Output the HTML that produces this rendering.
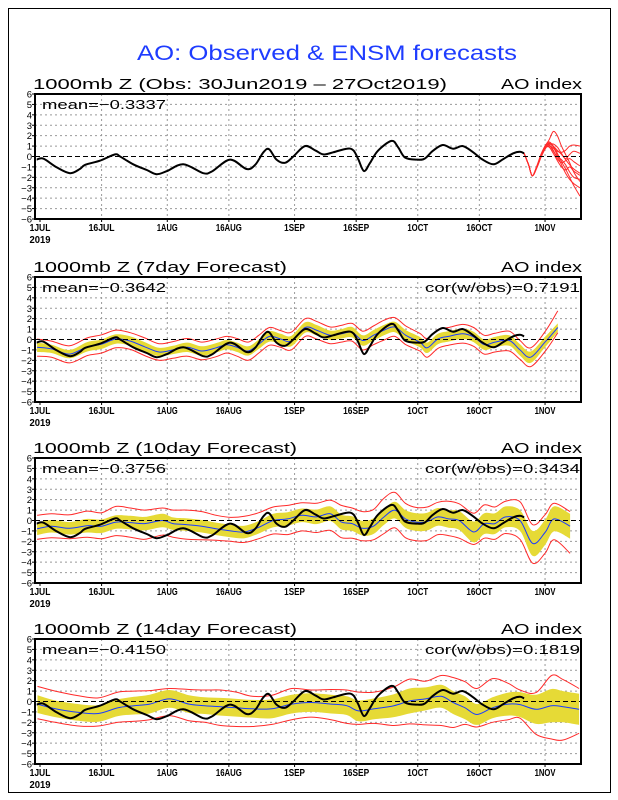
<!DOCTYPE html>
<html><head><meta charset="utf-8"><style>
html,body{margin:0;padding:0;background:#fff;}
svg{display:block;}
text{font-family:"Liberation Sans",sans-serif;}
</style></head><body>
<svg id="chart" width="618" height="800" viewBox="0 0 618 800" xmlns="http://www.w3.org/2000/svg">
<rect x="8.5" y="8.5" width="602" height="784" fill="none" stroke="#000" stroke-width="1"/>
<text x="137" y="60" font-size="21" fill="#1e3cff" textLength="380" lengthAdjust="spacingAndGlyphs">AO: Observed &amp; ENSM forecasts</text>
</svg>
<script>
// ---- data ----
const tickDays = [0,15,31,46,62,77,92,107,123];
const tickLabels = ["1JUL","16JUL","1AUG","16AUG","1SEP","16SEP","1OCT","16OCT","1NOV"];
const yTicks = [6,5,4,3,2,1,0,-1,-2,-3,-4,-5,-6];

const obsDays = [-0.8,0.8,4.1,7.3,9.7,11,14.6,18.3,19.5,22.7,26,28.4,30.9,34.9,39.8,42,46.3,50.3,52.4,54.4,55.8,57.6,59.7,61.7,64.5,67,69,71.4,74.7,76.3,77.5,78.9,80.4,82.3,85.6,87.2,88.9,91.8,93.7,95.7,98.1,100.6,103,105.5,107.6,110.4,112.8,115.2,116.9,117.9];
const obsVals = [-0.3,-0.2,-1.05,-1.6,-1.2,-0.8,-0.4,0.2,0.0,-0.75,-1.3,-1.7,-1.4,-0.75,-1.6,-1.4,-0.3,-1.2,-0.8,0.4,0.7,-0.3,-0.6,0.0,1.0,0.6,0.2,0.4,0.75,0.6,-0.25,-1.4,-0.6,0.55,1.5,0.9,-0.1,-0.3,-0.2,0.55,1.1,0.75,1.0,0.4,-0.25,-0.75,-0.25,0.3,0.45,0.3];

// panel 1 spaghetti members
const memDays = [117.9,119,119.9,121,122,123,124,125,126,127,128,129,130,131.5];
const members = [
 [0.3,-0.8,-1.85,-1.0,0.0,0.9,1.2,1.0,0.6,0.2,-0.3,-0.8,-1.2,-1.6],
 [0.3,-0.8,-1.85,-1.0,0.1,1.0,1.6,2.4,2.0,1.0,0.2,-0.6,-1.5,-2.4],
 [0.3,-0.8,-1.85,-0.9,0.2,1.0,1.4,1.0,0.3,-0.5,-1.2,-2.0,-2.8,-3.8],
 [0.3,-0.8,-1.85,-1.0,0.0,0.8,1.0,0.8,0.5,0.4,0.6,1.0,1.1,1.0],
 [0.3,-0.8,-1.85,-1.1,-0.1,0.7,1.1,0.6,-0.2,-0.6,-0.4,-0.2,-0.5,-0.9],
 [0.3,-0.8,-1.85,-1.0,0.1,0.9,1.3,0.9,0.1,-0.8,-1.6,-2.2,-2.6,-3.0],
 [0.3,-0.8,-1.85,-1.0,0.0,0.9,1.1,0.5,0.0,-0.3,-0.8,-1.5,-2.0,-2.2],
 [0.3,-0.8,-1.85,-1.0,0.0,1.0,1.2,1.2,0.9,0.3,-0.2,0.2,0.5,0.3],
 [0.3,-0.8,-1.85,-1.0,0.0,0.8,0.9,0.3,-0.4,-1.0,-1.3,-1.0,-1.4,-1.8]
];

const p2Days = [-0.7,2.8,7.2,11.5,15,18.5,22,25.5,29,32.4,35.9,39.4,42.9,45.5,48,50.7,53.3,55.9,58.6,61.2,64.6,67.3,70.7,73.4,76,78.6,81.2,83.8,86.4,89.1,92.5,94.3,96.9,99.5,103,105.6,108.2,110.8,114.3,116.9,119.5,123,126.1];
const p2Mean = [-0.75,-0.9,-1.4,-0.7,-0.45,0.05,-0.15,-0.7,-1.2,-1.0,-0.75,-1.1,-0.8,-0.5,-0.75,-1.1,-0.45,0.3,0.05,-0.15,1.15,0.9,0.4,0.55,0.7,-0.1,0.4,0.9,1.2,0.4,-0.25,-0.8,0.05,0.3,0.55,0.25,-0.5,-0.25,-0.1,-1.0,-1.7,-0.25,1.15];
const p2Band = [0.45,0.4,0.4,0.45,0.45,0.45,0.45,0.45,0.4,0.4,0.45,0.45,0.45,0.45,0.45,0.45,0.45,0.5,0.5,0.5,0.5,0.5,0.45,0.45,0.5,0.5,0.5,0.5,0.5,0.5,0.5,0.5,0.5,0.5,0.5,0.5,0.5,0.5,0.5,0.55,0.55,0.5,0.4];
const p2RedUp = [0.8,0.75,0.8,0.85,0.9,0.85,0.8,0.85,0.8,0.8,0.85,0.85,0.85,0.8,0.85,0.85,0.85,0.85,0.8,0.85,0.85,0.85,0.8,0.8,0.85,0.9,0.9,0.95,0.9,0.9,0.85,0.9,0.9,0.85,0.9,0.9,0.9,0.85,0.9,0.9,0.9,1.0,1.6];
const p2RedDn = [0.85,0.8,0.85,0.85,0.85,0.85,0.8,0.85,0.8,0.8,0.85,0.85,0.85,0.8,0.85,0.9,0.85,0.85,0.8,0.85,0.85,0.85,0.8,0.8,0.85,0.9,0.9,0.95,0.9,0.9,0.85,0.9,0.9,0.85,0.9,0.9,0.9,0.95,1.0,0.9,0.9,0.9,0.5];

const p3Days = [-0.7,2.8,7.2,11.5,15,18.5,22,25.5,29.8,32.4,35.9,39.4,42.9,46.4,49.8,53.3,56.8,60.3,63.8,67.3,70.7,73.4,76,78.6,81.2,83.8,86.4,89,91.7,94.3,96.9,99.5,102.1,105.6,108.2,110.8,113.4,116.9,120,123,125.2,129.1];
const p3Mean = [-0.8,-0.55,-0.75,-0.5,-0.55,-0.15,-0.2,-0.3,0,-0.3,-0.4,-0.55,-0.8,-1.0,-1.1,-0.65,0,0.15,0.5,0.35,0.65,-0.15,-0.3,-0.75,-0.55,0.35,1.0,0.15,-0.15,-0.1,0.35,0.15,0,-1.1,-0.3,-0.3,0.35,0,-2.2,-1.15,0.15,-0.55];
const p3Band = [0.6,0.6,0.6,0.65,0.65,0.65,0.65,0.65,0.65,0.6,0.6,0.6,0.6,0.6,0.6,0.6,0.65,0.65,0.65,0.7,0.7,0.7,0.7,0.7,0.75,0.75,0.8,0.85,0.85,0.85,0.85,0.85,0.9,1.0,1.0,1.0,1.0,1.0,1.2,1.2,1.2,1.2];
const p3RedUp = [1.3,1.2,1.3,1.4,1.3,1.5,1.4,1.3,1.2,1.3,1.4,1.4,1.3,1.3,1.5,1.4,1.3,1.3,1.2,1.3,1.3,1.6,1.5,1.6,1.6,1.8,1.7,1.5,1.4,1.4,1.4,1.7,1.6,1.8,1.8,1.6,1.5,1.8,1.8,1.7,1.5,1.4];
const p3RedDn = [1.0,1.1,1.0,1.1,1.2,1.3,1.4,1.5,1.4,1.3,1.4,1.3,1.1,1.0,1.0,1.1,1.3,1.5,1.5,1.5,1.6,1.5,1.4,1.2,1.3,1.6,1.7,1.8,1.8,1.8,1.7,1.6,1.7,1.2,1.4,1.5,1.6,1.8,1.9,2.0,2.0,2.6];

const p4Days = [-0.6,3.7,9.4,14.2,19,22.9,26.7,31.5,36.3,40.1,44,47.8,51.7,56.5,61.3,66,70.9,74.7,77.6,81.4,86.2,90,93.9,97.7,100.6,103.5,106.4,110.2,114,116.9,120.8,124.6,127.4,131.3];
const p4Mean = [-0.25,-0.7,-1.05,-1.15,-0.6,-0.4,-0.25,0.25,-0.25,-0.4,-0.5,-0.6,-0.7,-0.7,-0.25,-0.1,-0.25,-0.4,-0.9,-0.7,-0.4,0.05,0.25,0.5,-0.1,-0.6,-1.25,-0.6,-0.25,-0.3,-0.75,-0.4,-0.5,-0.75];
const p4Band = [0.85,0.8,0.8,0.8,0.8,0.85,0.9,0.85,0.85,0.8,0.85,0.85,0.85,0.9,0.9,0.9,0.9,0.9,1.0,1.0,1.1,1.2,1.1,1.1,1.1,1.1,1.0,1.0,1.1,1.2,1.4,1.6,1.5,1.5];
const p4RedUp = [1.7,1.7,1.6,1.5,1.5,1.4,1.3,1.0,1.4,1.5,1.6,1.5,1.2,1.3,1.5,1.2,1.4,1.5,1.8,1.6,1.8,2.1,1.7,2.0,2.4,2.5,2.5,2.8,2.0,1.4,1.6,2.9,2.6,2.0];
const p4RedDn = [1.4,1.3,1.3,1.2,1.4,1.5,1.5,1.6,1.6,1.6,1.8,1.8,1.7,1.5,1.5,1.4,1.5,1.7,1.3,1.4,1.9,2.2,2.5,2.8,2.4,1.6,1.2,1.4,1.5,1.3,2.4,3.2,3.2,2.3];

const panelTops = [94,277,458,639];
const panelTitles = ["1000mb Z (Obs: 30Jun2019 \u2013 27Oct2019)","1000mb Z (7day Forecast)","1000mb Z (10day Forecast)","1000mb Z (14day Forecast)"];
const meanTexts = ["mean=\u22120.3337","mean=\u22120.3642","mean=\u22120.3756","mean=\u22120.4150"];
const corTexts = ["","cor(w/obs)=0.7191","cor(w/obs)=0.3434","cor(w/obs)=0.1819"];
const titleWidths = [414,254,264,264];

// ---- geometry ----
const svg = document.getElementById('chart');
const NS = 'http://www.w3.org/2000/svg';
const L = 35, R = 581, H = 125;
function xs(d){ return 40 + d*4.106; }
function ys(top, v){ return top + H/2 - v*(H/12); }
function mk(tag, attrs, parent){ const e=document.createElementNS(NS,tag); for(const k in attrs) e.setAttribute(k,attrs[k]); (parent||svg).appendChild(e); return e; }
function smooth(pts){
  let d = 'M'+pts[0][0].toFixed(1)+','+pts[0][1].toFixed(1);
  for(let i=0;i<pts.length-1;i++){
    const p0=pts[Math.max(0,i-1)], p1=pts[i], p2=pts[i+1], p3=pts[Math.min(pts.length-1,i+2)];
    const c1=[p1[0]+(p2[0]-p0[0])/6, p1[1]+(p2[1]-p0[1])/6];
    const c2=[p2[0]-(p3[0]-p1[0])/6, p2[1]-(p3[1]-p1[1])/6];
    d += ' C'+c1[0].toFixed(1)+','+c1[1].toFixed(1)+' '+c2[0].toFixed(1)+','+c2[1].toFixed(1)+' '+p2[0].toFixed(1)+','+p2[1].toFixed(1);
  }
  return d;
}
function pts(top, days, vals){ return days.map((d,i)=>[xs(d), ys(top, vals[i])]); }

panelTops.forEach((top, pi) => {
  const g = mk('g', {});
  
  
  const clipId = 'clip'+pi;
  const cp = mk('clipPath', {id: clipId}, g);
  mk('rect', {x:L, y:top, width:R-L, height:H}, cp);

  const t = mk('text', {x:33, y:top-5, 'font-size':15, textLength:titleWidths[pi], lengthAdjust:'spacingAndGlyphs'}, g);
  
  
  t.textContent = panelTitles[pi];
  const t2 = mk('text', {x:582, y:top-5, 'font-size':15, 'text-anchor':'end', textLength:81, lengthAdjust:'spacingAndGlyphs'}, g);
  
  
  t2.textContent = 'AO index';

  // grid
  yTicks.forEach(v => {
    const y = ys(top, v);
    if (v !== 0 && Math.abs(v) !== 6) {
      const gl = mk('line', {x1:L, x2:R, y1:y, y2:y, stroke:'#999', 'stroke-width':1, 'stroke-dasharray':'2,3'}, g);
      
      
    }
    const tk = mk('line', {x1:L-3, x2:L, y1:y, y2:y, stroke:'#000', 'stroke-width':1}, g);
    
    
    const lb = mk('text', {x:L-3, y:y+3.5, 'font-size':9.5, 'text-anchor':'end'}, g);
    
    
    lb.textContent = v < 0 ? '\u2212' + (-v) : String(v);
  });
  tickDays.forEach((d, i) => {
    const x = xs(d);
    if (i > 0) {
      const gl = mk('line', {x1:x, x2:x, y1:top, y2:top+H, stroke:'#999', 'stroke-width':1, 'stroke-dasharray':'2,3'}, g);
      
      
    }
    const tk = mk('line', {x1:x, x2:x, y1:top+H, y2:top+H+3, stroke:'#000', 'stroke-width':1}, g);
    
    
    const lb = mk('text', {x:x, y:top+H+12, 'font-size':10.5, 'font-weight':'bold', 'text-anchor':'middle', textLength:tickLabels[i].length*5.2, lengthAdjust:'spacingAndGlyphs'}, g);
    
    
    lb.textContent = tickLabels[i];
  });
  const yr = mk('text', {x:xs(0), y:top+H+24, 'font-size':10.5, 'font-weight':'bold', 'text-anchor':'middle', textLength:21, lengthAdjust:'spacingAndGlyphs'}, g);
  
  
  yr.textContent = '2019';

  const plot = mk('g', {'clip-path':'url(#'+clipId+')'}, g);

  const series = [null, [p2Days,p2Mean,p2Band,p2RedUp,p2RedDn], [p3Days,p3Mean,p3Band,p3RedUp,p3RedDn], [p4Days,p4Mean,p4Band,p4RedUp,p4RedDn]][pi];
  if (series) {
    const [dd, mm, bb, ru, rd] = series;
    const up = pts(top, dd, mm.map((v,i)=>v+bb[i]));
    const lo = pts(top, dd, mm.map((v,i)=>v-bb[i]));
    const dUp = smooth(up);
    const dLo = smooth(lo.slice().reverse()).replace(/^M/, 'L');
    const band = mk('path', {d: dUp + ' ' + dLo + ' Z', fill:'#e6da36', stroke:'none'}, plot);
    
    
    const r1 = mk('path', {d: smooth(pts(top, dd, mm.map((v,i)=>v+ru[i]))), fill:'none', stroke:'#ff2a2a', 'stroke-width':1}, plot);
    
    
    const r2 = mk('path', {d: smooth(pts(top, dd, mm.map((v,i)=>v-rd[i]))), fill:'none', stroke:'#ff2a2a', 'stroke-width':1}, plot);
    
    
    const bl = mk('path', {d: smooth(pts(top, dd, mm)), fill:'none', stroke:'#1a3cff', 'stroke-width':1}, plot);
    
    
  } else {
    members.forEach(m => {
      const ml = mk('path', {d: smooth(pts(top, memDays, m)), fill:'none', stroke:'#ff2a2a', 'stroke-width':1}, plot);
      
      
    });
  }

  const zl = mk('line', {x1:L, x2:R, y1:ys(top,0), y2:ys(top,0), stroke:'#000', 'stroke-width':1, 'stroke-dasharray':'5,3'}, plot);
  
  

  const ob = mk('path', {d: smooth(pts(top, obsDays, obsVals)), fill:'none', stroke:'#000', 'stroke-width':2}, plot);
  
  

  const box = mk('rect', {x:L, y:top, width:R-L, height:H, fill:'none', stroke:'#000', 'stroke-width':2}, g);
  
  

  const mt = mk('text', {x:42, y:top+15, 'font-size':13, textLength:124, lengthAdjust:'spacingAndGlyphs'}, g);
  
  
  mt.textContent = meanTexts[pi];
  if (corTexts[pi]) {
    const ct = mk('text', {x:580, y:top+15, 'font-size':13, 'text-anchor':'end', textLength:155, lengthAdjust:'spacingAndGlyphs'}, g);
    
    
    ct.textContent = corTexts[pi];
  }
});
</script>
</body></html>
